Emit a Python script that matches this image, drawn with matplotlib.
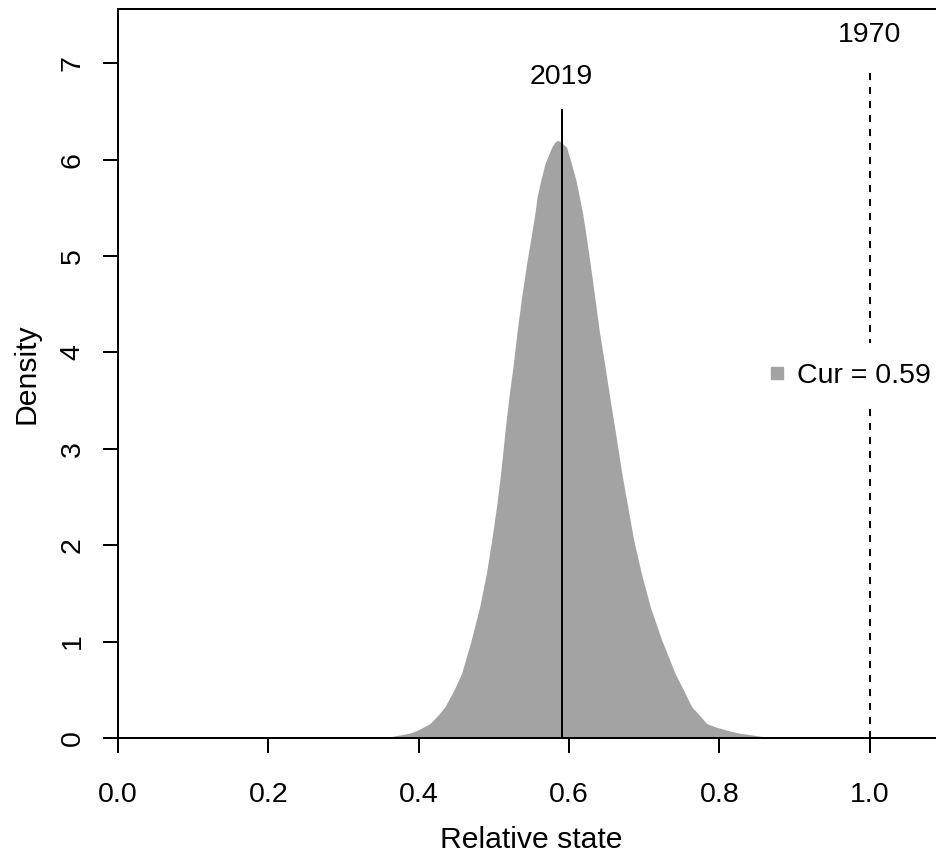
import matplotlib
matplotlib.use("Agg")
import matplotlib.pyplot as plt
from matplotlib.lines import Line2D

plt.rcParams['font.family'] = ['Liberation Sans', 'DejaVu Sans']

# density curve of relative state
state = [0.350, 0.362, 0.388, 0.399, 0.415, 0.426, 0.435, 0.447, 0.457, 0.470,
         0.481, 0.490, 0.497, 0.5035, 0.509, 0.515, 0.520, 0.526, 0.531, 0.537,
         0.5435, 0.551, 0.5545, 0.5576, 0.5625, 0.568, 0.577, 0.581, 0.585, 0.589,
         0.5966, 0.603, 0.609, 0.6135, 0.618, 0.6215, 0.628, 0.634, 0.640, 0.647,
         0.654, 0.661, 0.670, 0.678, 0.686, 0.696, 0.708, 0.723, 0.741, 0.752,
         0.763, 0.773, 0.783, 0.794, 0.809, 0.827, 0.845, 0.870]
density = [0.0, 0.013, 0.05, 0.083, 0.15, 0.24, 0.325, 0.50, 0.67, 1.02,
           1.36, 1.71, 2.05, 2.40, 2.75, 3.20, 3.54, 3.89, 4.23, 4.58,
           4.92, 5.27, 5.44, 5.62, 5.79, 5.96, 6.13, 6.18, 6.20, 6.18,
           6.13, 5.96, 5.79, 5.62, 5.44, 5.27, 4.92, 4.58, 4.23, 3.89,
           3.54, 3.20, 2.75, 2.40, 2.05, 1.71, 1.36, 1.02, 0.67, 0.50,
           0.325, 0.24, 0.15, 0.117, 0.083, 0.049, 0.03, 0.0]

cur_value = 0.59
cur_top = 6.51
ref_value = 1.0
ref_top = 6.93
cur_label = "2019"
ref_label = "1970"
legend_text = "Cur = 0.59"

x_ticks = [0.0, 0.2, 0.4, 0.6, 0.8, 1.0]
y_ticks = [0, 1, 2, 3, 4, 5, 6, 7]

fill_col = '#A3A3A3'
fs = 20.5
fs_lab = 21.7
lw = 1.44

fig = plt.figure(figsize=(9.37, 8.52), dpi=100)
ax = fig.add_axes([118 / 937, 114 / 852, 827 / 937, 729 / 852])

ax.fill_between(state, density, 0, color=fill_col, lw=0, zorder=1)
ax.plot([cur_value, cur_value], [0, cur_top], color='black', lw=lw, zorder=2)
ax.plot([ref_value, ref_value], [0, ref_top], color='black', lw=lw,
        ls=(0, (3.5, 3.5)), zorder=2)
ax.text(cur_value, 6.86, cur_label, ha='center', va='center', fontsize=fs)
ax.text(ref_value, 7.29, ref_label, ha='center', va='center', fontsize=fs)

ax.set_xlim(0, 1.1)
ax.set_ylim(0, 7.562)
ax.set_xticks(x_ticks)
ax.set_xticklabels([f"{v:.1f}" for v in x_ticks])
ax.set_yticks(y_ticks)
ax.set_yticklabels([str(v) for v in y_ticks])
for lbl in ax.get_yticklabels():
    lbl.set_rotation(90)
    lbl.set_va('center')

ax.tick_params(direction='out', length=10.8, width=lw, labelsize=fs)
ax.tick_params(axis='x', pad=21)
ax.tick_params(axis='y', pad=12.5)
for sp in ax.spines.values():
    sp.set_linewidth(lw)

ax.set_xlabel("Relative state", fontsize=fs_lab, labelpad=12.5)
ax.set_ylabel("Density", fontsize=fs_lab, labelpad=14)

handle = Line2D([], [], marker='s', ls='none', color=fill_col, markersize=8.6)
leg = ax.legend([handle], [legend_text], loc='center left',
                bbox_to_anchor=((749 - 118) / 827, 0.496), borderaxespad=0,
                frameon=True, framealpha=1, edgecolor='none', fancybox=False,
                fontsize=fs, handlelength=0.6, handletextpad=0.4, borderpad=0.7)
leg.get_frame().set_facecolor('white')

fig.savefig("out.png", dpi=100)
